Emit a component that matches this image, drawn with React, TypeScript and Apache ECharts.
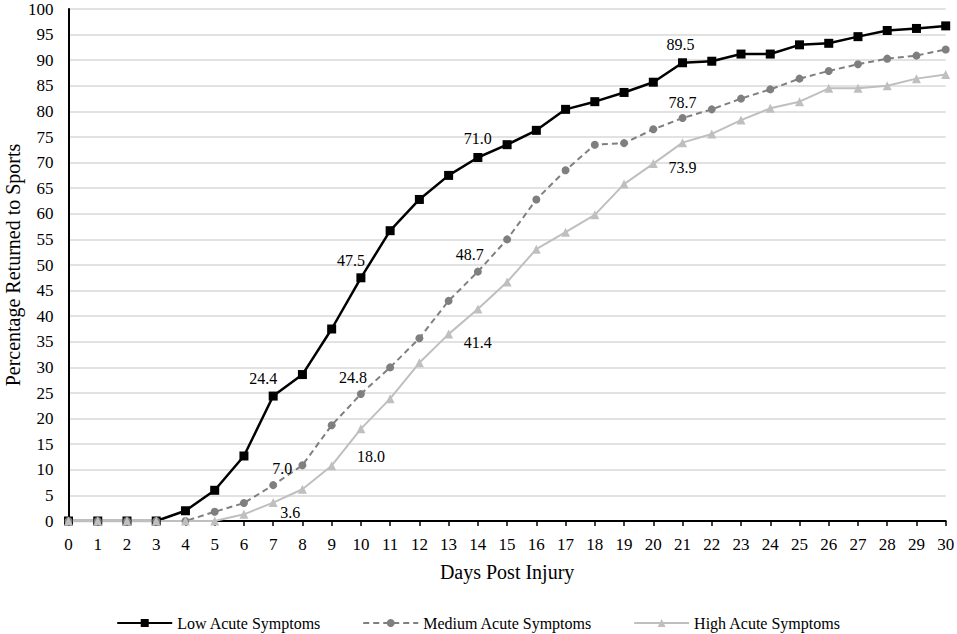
import React, { useEffect, useRef } from "react";
import * as echarts from "echarts";

const days = ["0","1","2","3","4","5","6","7","8","9","10","11","12","13","14","15","16","17","18","19","20","21","22","23","24","25","26","27","28","29","30"];

const lowValues = [0, 0, 0, 0, 2.0, 6.0, 12.7, 24.4, 28.6, 37.5, 47.5, 56.7, 62.8, 67.5, 71.0, 73.5, 76.3, 80.4, 81.9, 83.7, 85.7, 89.5, 89.8, 91.2, 91.2, 93.0, 93.3, 94.6, 95.8, 96.2, 96.7];
const mediumValues = [0, 0, 0, 0, 0, 1.8, 3.5, 7.0, 10.9, 18.7, 24.8, 30.0, 35.7, 43.0, 48.7, 55.0, 62.8, 68.5, 73.5, 73.8, 76.5, 78.7, 80.4, 82.5, 84.3, 86.4, 87.9, 89.2, 90.3, 90.9, 92.1];
const highValues = [0, 0, 0, 0, 0, 0, 1.3, 3.6, 6.2, 10.8, 18.0, 23.9, 30.9, 36.5, 41.4, 46.7, 53.1, 56.4, 59.8, 65.8, 69.8, 73.9, 75.6, 78.3, 80.6, 81.9, 84.5, 84.5, 85.0, 86.4, 87.2];

const lowLabelDays = [7, 10, 14, 21];
const mediumLabelDays = [7, 10, 14, 21];
const highLabelDays = [7, 10, 14, 21];

const seriesNames = ["Low Acute Symptoms", "Medium Acute Symptoms", "High Acute Symptoms"];

const FONT = "'Liberation Serif', 'Times New Roman', serif";

type Placement = { position: any; offset: [number, number] };

const lowPlacement: Record<number, Placement> = {
  7: { position: "top", offset: [-10, 0] },
  10: { position: "top", offset: [-10, 0] },
  14: { position: "top", offset: [0, -1] },
  21: { position: "top", offset: [-2, -1] },
};
const mediumPlacement: Record<number, Placement> = {
  7: { position: "top", offset: [9, 0] },
  10: { position: "top", offset: [-8, 0] },
  14: { position: "top", offset: [-8, 0] },
  21: { position: "top", offset: [0, 1] },
};
const highPlacement: Record<number, Placement> = {
  7: { position: "inside", offset: [17, 10] },
  10: { position: "inside", offset: [10, 28] },
  14: { position: "inside", offset: [0, 33] },
  21: { position: "inside", offset: [0, 25] },
};

function buildData(values: number[], labelDays: number[], placement: Record<number, Placement>) {
  return values.map((v, i) => {
    if (labelDays.indexOf(i) >= 0) {
      const p = placement[i];
      return {
        value: v,
        label: {
          show: true,
          position: p.position,
          offset: p.offset,
          formatter: (prm: any) => Number(prm.value).toFixed(1),
          color: "#000",
          fontSize: 16,
          fontFamily: FONT,
        },
      };
    }
    return v;
  });
}

export default function App() {
  const ref = useRef<HTMLDivElement>(null);
  useEffect(() => {
    document.body.style.margin = "0";
    if (!ref.current) return;
    const chart = echarts.init(ref.current, undefined, { renderer: "svg" });
    chart.setOption({
      animation: false,
      backgroundColor: "#fff",
      textStyle: { fontFamily: FONT, color: "#000" },
      grid: { left: 68.5, right: 11.3, top: 9, bottom: 113, containLabel: false, outerBoundsMode: "none" },
      legend: {
        data: seriesNames,
        top: 610,
        left: "center",
        itemWidth: 55,
        itemHeight: 10,
        itemGap: 41,
        textStyle: { fontSize: 16, fontFamily: FONT, color: "#000" },
      },
      xAxis: {
        type: "category",
        data: days,
        boundaryGap: false,
        name: "Days Post Injury",
        nameLocation: "middle",
        nameGap: 41,
        nameMoveOverlap: false,
        nameTextStyle: { fontSize: 20, fontFamily: FONT, color: "#000" },
        axisLine: { show: true, lineStyle: { color: "#000", width: 2 } },
        axisTick: { show: true, length: 5, lineStyle: { color: "#000", width: 1.5 } },
        axisLabel: { fontSize: 17, fontFamily: FONT, color: "#000", margin: 15, interval: 0 },
        splitLine: { show: false },
      },
      yAxis: {
        type: "value",
        min: 0,
        max: 100,
        interval: 5,
        name: "Percentage Returned to Sports",
        nameLocation: "middle",
        nameGap: 46,
        nameMoveOverlap: false,
        nameTextStyle: { fontSize: 20, fontFamily: FONT, color: "#000" },
        axisLine: { show: true, lineStyle: { color: "#000", width: 2 } },
        axisTick: { show: false },
        axisLabel: { fontSize: 17, fontFamily: FONT, color: "#000", margin: 15 },
        splitLine: { show: true, lineStyle: { color: "#d9d9d9", width: 1.5 } },
      },
      series: [
        {
          name: seriesNames[0],
          type: "line",
          data: buildData(lowValues, lowLabelDays, lowPlacement),
          symbol: "rect",
          symbolSize: 9,
          itemStyle: { color: "#000" },
          lineStyle: { color: "#000", width: 2.5 },
        },
        {
          name: seriesNames[1],
          type: "line",
          data: buildData(mediumValues, mediumLabelDays, mediumPlacement),
          symbol: "circle",
          symbolSize: 8,
          itemStyle: { color: "#7f7f7f" },
          lineStyle: { color: "#7f7f7f", width: 2, type: [6, 4] },
        },
        {
          name: seriesNames[2],
          type: "line",
          data: buildData(highValues, highLabelDays, highPlacement),
          symbol: "triangle",
          symbolSize: 9,
          itemStyle: { color: "#bfbfbf" },
          lineStyle: { color: "#bfbfbf", width: 2 },
        },
      ],
    });
    return () => chart.dispose();
  }, []);
  return <div ref={ref} style={{ width: 957, height: 634 }} />;
}
